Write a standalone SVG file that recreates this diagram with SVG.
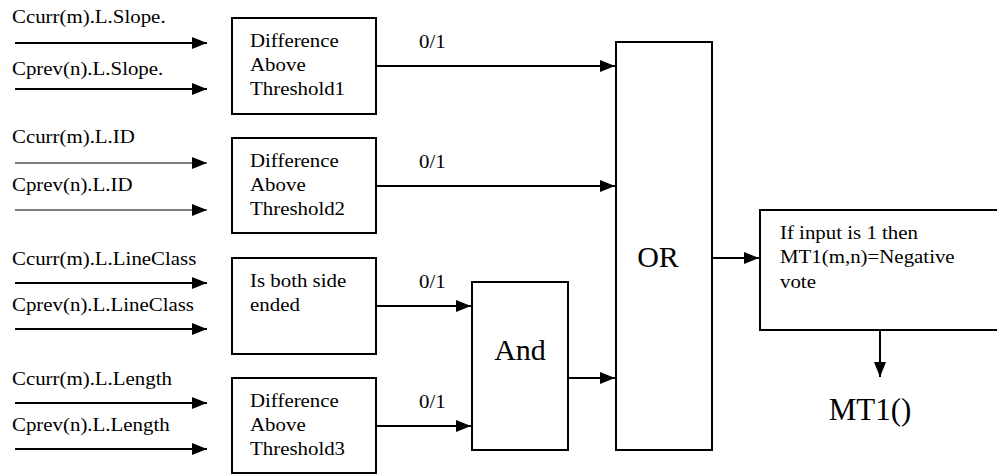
<svg xmlns="http://www.w3.org/2000/svg" width="997" height="476" viewBox="0 0 997 476">
  <style>
    .box { fill: #ffffff; stroke: #000000; stroke-width: 2; }
    .t { font-family: 'Liberation Serif', 'Times New Roman', 'DejaVu Serif', serif; font-size: 18px; fill: #000000; }
    .big { font-family: 'Liberation Serif', 'Times New Roman', 'DejaVu Serif', serif; font-size: 30px; fill: #000000; }
    .wire { stroke: #000000; stroke-width: 2; fill: none; marker-end: url(#arrow); }
    .thin { stroke-width: 1; }
  </style>
  <defs>
    <marker id="arrow" viewBox="0 0 15 12" refX="15" refY="6" markerWidth="15" markerHeight="12" markerUnits="userSpaceOnUse" orient="auto">
      <path d="M0,0 L15,6 L0,12 Z" fill="#000000"/>
    </marker>
  </defs>
  <rect width="997" height="476" fill="#ffffff"/>

  <!-- input labels -->
  <g id="inputs">
    <text class="t" transform="translate(12 23) scale(1.16 1)">Ccurr(m).L.Slope.</text>
    <text class="t" transform="translate(12 75) scale(1.16 1)">Cprev(n).L.Slope.</text>
    <text class="t" transform="translate(12 143) scale(1.16 1)">Ccurr(m).L.ID</text>
    <text class="t" transform="translate(12 191) scale(1.16 1)">Cprev(n).L.ID</text>
    <text class="t" transform="translate(12 265) scale(1.16 1)">Ccurr(m).L.LineClass</text>
    <text class="t" transform="translate(12 311) scale(1.16 1)">Cprev(n).L.LineClass</text>
    <text class="t" transform="translate(12 385) scale(1.16 1)">Ccurr(m).L.Length</text>
    <text class="t" transform="translate(12 431) scale(1.16 1)">Cprev(n).L.Length</text>
  </g>

  <g id="diff1">
    <rect class="box" x="232" y="18" width="144" height="96"/>
    <text class="t" transform="translate(250 47) scale(1.16 1)"><tspan x="0" y="0">Difference</tspan><tspan x="0" y="24">Above</tspan><tspan x="0" y="48">Threshold1</tspan></text>
  </g>
  <g id="diff2">
    <rect class="box" x="232" y="138" width="144" height="95"/>
    <text class="t" transform="translate(250 167) scale(1.16 1)"><tspan x="0" y="0">Difference</tspan><tspan x="0" y="24">Above</tspan><tspan x="0" y="48">Threshold2</tspan></text>
  </g>
  <g id="ended">
    <rect class="box" x="232" y="258" width="144" height="96"/>
    <text class="t" transform="translate(250 287) scale(1.16 1)"><tspan x="0" y="0">Is both side</tspan><tspan x="0" y="24">ended</tspan></text>
  </g>
  <g id="diff3">
    <rect class="box" x="232" y="378" width="144" height="95"/>
    <text class="t" transform="translate(250 407) scale(1.16 1)"><tspan x="0" y="0">Difference</tspan><tspan x="0" y="24">Above</tspan><tspan x="0" y="48">Threshold3</tspan></text>
  </g>
  <g id="and">
    <rect class="box" x="472" y="282" width="96" height="168"/>
    <text class="big" x="520" y="360" text-anchor="middle">And</text>
  </g>
  <g id="or">
    <rect class="box" x="616" y="42" width="96" height="408"/>
    <text class="big" x="658" y="267" text-anchor="middle">OR</text>
  </g>
  <g id="vote">
    <rect class="box" x="760" y="210" width="240" height="120"/>
    <text class="t" transform="translate(780 239) scale(1.16 1)"><tspan x="0" y="0">If input is 1 then</tspan><tspan x="0" y="24.5">MT1(m,n)=Negative</tspan><tspan x="0" y="49">vote</tspan></text>
  </g>
  <g id="result">
    <text class="big" x="870" y="420" text-anchor="middle" style="font-size:31px">MT1()</text>
  </g>

  <!-- signal labels on the wires -->
  <g id="labels">
    <text class="t" transform="translate(419 48) scale(1.16 1)">0/1</text>
    <text class="t" transform="translate(419 168) scale(1.16 1)">0/1</text>
    <text class="t" transform="translate(419 288) scale(1.16 1)">0/1</text>
    <text class="t" transform="translate(419 408) scale(1.16 1)">0/1</text>
  </g>

  <g id="connectors">
    <line class="wire" x1="15" y1="43" x2="207" y2="43"/>
    <line class="wire" x1="15" y1="89" x2="207" y2="89"/>
    <line class="wire thin" x1="15" y1="163" x2="207" y2="163"/>
    <line class="wire thin" x1="15" y1="210" x2="207" y2="210"/>
    <line class="wire" x1="15" y1="283" x2="207" y2="283"/>
    <line class="wire" x1="15" y1="329" x2="207" y2="329"/>
    <line class="wire" x1="15" y1="403" x2="207" y2="403"/>
    <line class="wire" x1="15" y1="449" x2="207" y2="449"/>
    <line class="wire" x1="376" y1="66" x2="615" y2="66"/>
    <line class="wire" x1="376" y1="186" x2="615" y2="186"/>
    <line class="wire" x1="376" y1="306" x2="471" y2="306"/>
    <line class="wire" x1="376" y1="426" x2="471" y2="426"/>
    <line class="wire" x1="568" y1="378" x2="615" y2="378"/>
    <line class="wire" x1="712" y1="258" x2="759" y2="258"/>
    <line class="wire" x1="880" y1="330" x2="880" y2="377"/>
  </g>
</svg>
